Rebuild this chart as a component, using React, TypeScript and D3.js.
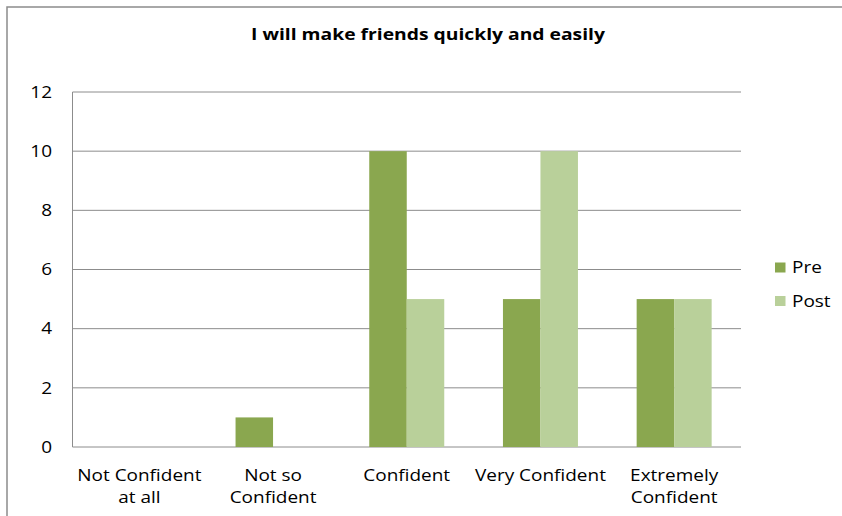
import React from "react";
import * as d3 from "d3";

const categories = [["Not Confident", "at all"], ["Not so", "Confident"], ["Confident"], ["Very Confident"], ["Extremely", "Confident"]];
const categoryKeys = ["Not Confident at all", "Not so Confident", "Confident", "Very Confident", "Extremely Confident"];
const seriesNames = ["Pre", "Post"];
const preValues = [0, 1, 10, 5, 5];
const postValues = [0, 0, 5, 10, 5];
const yTicks = [0, 2, 4, 6, 8, 10, 12];
const colors = ["#8AA74F", "#B9D09A"];
const title = "I will make friends quickly and easily";

export default function App() {
  const W = 842, H = 516;
  const left = 72.5, right = 741, top = 92, bottom = 447;
  const x = d3.scaleBand<string>().domain(categoryKeys).range([left, right]).padding(0);
  const y = d3.scaleLinear().domain([0, 12]).range([bottom, top]);
  const bw = x.bandwidth();
  const barW = 37.5;
  const inner = d3.scaleBand<string>().domain(seriesNames).range([bw / 2 - barW, bw / 2 + barW]).padding(0);
  const series = [preValues, postValues];
  const font = "Open Sans, Liberation Sans, sans-serif";
  const sx = 1.15;
  return (
    <svg width={W} height={H} style={{ position: "absolute", left: 0, top: 0, background: "#fff" }} fontFamily={font}>
      <rect x={7} y={7} width={W + 10} height={H + 10} fill="none" stroke="#8c8c8c" strokeWidth={1.5} />
      <text transform={`translate(428,39.5) scale(1.17,1)`} textAnchor="middle" fontSize={16.5} fontWeight="bold" fill="#000">{title}</text>
      {yTicks.map(t => (
        <g key={t}>
          <line x1={left} x2={right} y1={y(t)} y2={y(t)} stroke="#8c8c8c" strokeWidth={1} />
          <text transform={`translate(52,${y(t) + 5.8}) scale(${sx},1)`} textAnchor="end" fontSize={16.5} fill="#000">{t}</text>
        </g>
      ))}
      <line x1={left} x2={left} y1={top} y2={bottom} stroke="#8c8c8c" strokeWidth={1} />
      {categoryKeys.map((c, i) => (
        <g key={c} transform={`translate(${x(c)},0)`}>
          {series.map((vals, s) => (
            <rect key={s} x={inner(seriesNames[s])!} width={inner.bandwidth()} y={y(vals[i])} height={bottom - y(vals[i])} fill={colors[s]} />
          ))}
          {categories[i].map((line, k) => (
            <text key={k} transform={`translate(${bw / 2},${481 + k * 21.5}) scale(${sx},1)`} textAnchor="middle" fontSize={16.5} fill="#000">{line}</text>
          ))}
        </g>
      ))}
      {seriesNames.map((n, s) => (
        <g key={n} transform={`translate(775,${262.5 + s * 33.5})`}>
          <rect x={0} y={0} width={10.5} height={10} fill={colors[s]} />
          <text transform={`translate(17,10.5) scale(${sx},1)`} fontSize={16.5} fill="#000">{n}</text>
        </g>
      ))}
    </svg>
  );
}
